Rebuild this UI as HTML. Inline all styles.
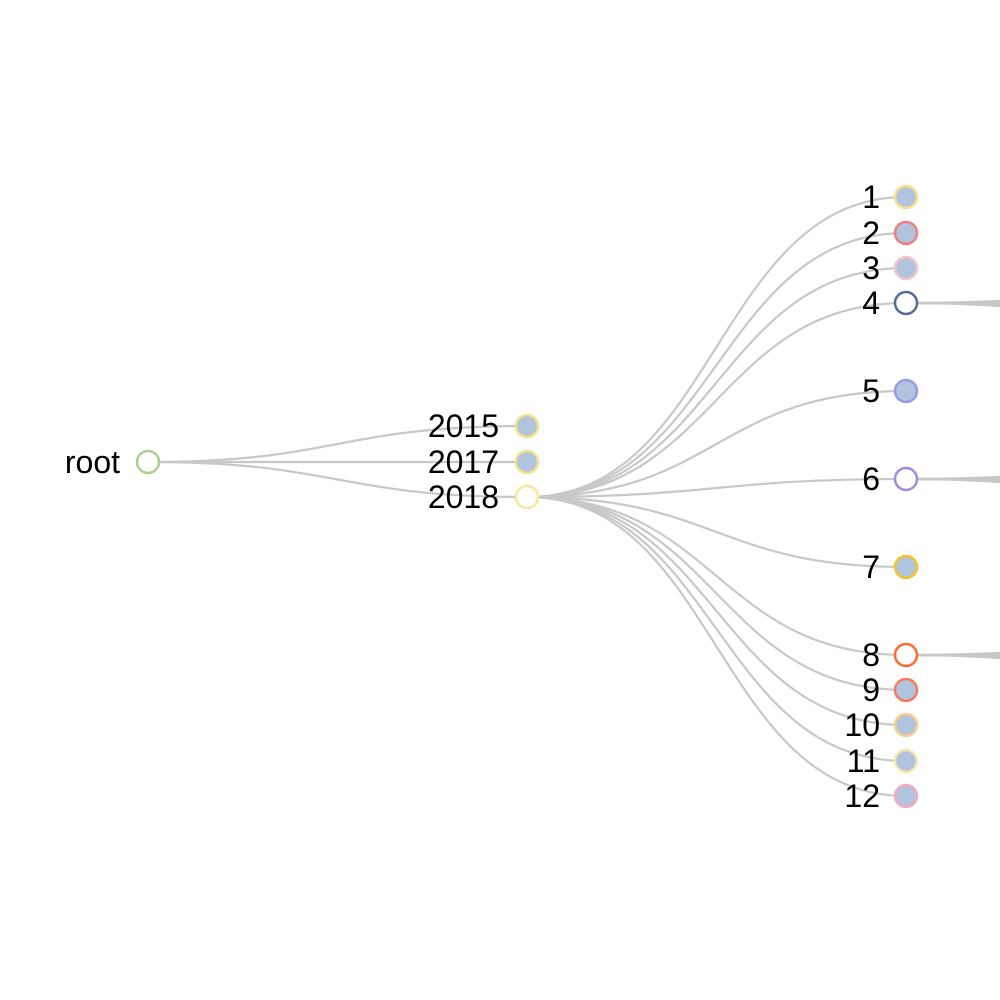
<!DOCTYPE html>
<html><head><meta charset="utf-8"><style>
html,body{margin:0;padding:0;background:#fff;}
svg{display:block;}
text{font-family:"Liberation Sans",sans-serif;font-size:32px;fill:#000;}
</style></head><body>
<svg id="chart" width="1000" height="1000"></svg>
<script>
const rootName = "root";
const years = ["2015","2017","2018"];
const yearColors = ["#f5e08a","#f5e08a","#f9e7a0"];
const yearCollapsed = [true,true,false];
const months = ["1","2","3","4","5","6","7","8","9","10","11","12"];
const monthColors = ["#f9e08b","#ee7f7f","#f5c3cc","#506d99","#9a9be6","#a28be0","#f8c12a","#fb6c33","#f57b5c","#f9cf8b","#f9e7b0","#f6a9bf"];
const monthCollapsed = [true,true,true,false,true,false,true,false,true,true,true,true];
const monthYPos = [197,233,268,303,391,479,567,655,690,725,761,796];
const hiddenChildOffsets = [-20,-10,0,10,20,30];

const svg = document.getElementById('chart');
const NS = "http://www.w3.org/2000/svg";
function mk(tag, attrs){const e=document.createElementNS(NS,tag);for(const k in attrs)e.setAttribute(k,attrs[k]);return e;}
const edges = mk('g',{});   svg.appendChild(edges);
const nodes = mk('g',{});   svg.appendChild(nodes);
function link(x1,y1,x2,y2){
  const mx=(x1+x2)/2;
  const p=mk('path',{d:`M${x1},${y1} C${mx},${y1} ${mx},${y2} ${x2},${y2}`,fill:'none',stroke:'#c8c8c8','stroke-width':2.2});
  
  
  edges.appendChild(p);
}
function node(x,y,name,color,collapsed,labelLeft){
  const g=mk('g',{});
  
  
  const c=mk('circle',{cx:x,cy:y,r:11,fill:collapsed?'#b0c4de':'#fff',stroke:color,'stroke-width':2.5});
  g.appendChild(c);
  const t=mk('text',{x:x-(labelLeft||20),y:y+11,'text-anchor':'end'});
  t.textContent=name;
  
  
  g.appendChild(t);
  nodes.appendChild(g);
}
const rx=148, ry=462, yx=527, mx=906;
const yearY=[426,462,497];
years.forEach((y,i)=>link(rx,ry,yx,yearY[i]));
months.forEach((m,i)=>link(yx,yearY[2],mx,monthYPos[i]));
months.forEach((m,i)=>{ if(!monthCollapsed[i]) hiddenChildOffsets.forEach(o=>link(mx,monthYPos[i],1285,monthYPos[i]+o)); });
node(rx,ry,rootName,'#a9d18e',false,28);
years.forEach((y,i)=>node(yx,yearY[i],y,yearColors[i],yearCollapsed[i],28));
months.forEach((m,i)=>node(mx,monthYPos[i],m,monthColors[i],monthCollapsed[i],26));
</script>
</body></html>
